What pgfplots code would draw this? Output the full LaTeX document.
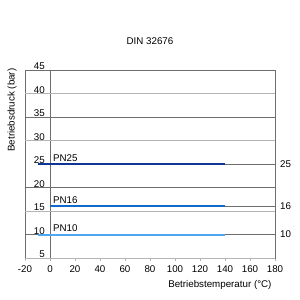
\documentclass[border=0pt]{standalone}
\usepackage{pgfplots}
\pgfplotsset{compat=1.18}
\usepackage{fontspec}
\setmainfont{Liberation Sans}
\definecolor{pnA}{HTML}{0D3596}
\definecolor{pnB}{HTML}{1269CC}
\definecolor{pnC}{HTML}{4FA5EE}
\definecolor{gdark}{HTML}{6E6E6E}
\definecolor{glight}{HTML}{B4B4B4}
\begin{document}
\begin{tikzpicture}[x=1bp,y=1bp]
\useasboundingbox (0,0) rectangle (300,300);
\begin{axis}[
  at={(25bp,42bp)}, anchor=south west,
  scale only axis, width=250bp, height=188bp,
  xmin=-20, xmax=180, ymin=5, ymax=45,
  xtick={-20,0,...,180}, ytick={5,10,...,45},
  font=\fontsize{9.8}{11}\selectfont,
  /pgf/number format/assume math mode=true,
  axis line style={gdark, line width=0.8bp},
  extra y ticks={15,30,40}, extra y tick labels={},
  extra y tick style={ymajorgrids, major grid style={glight, line width=1bp}, ytick style={draw=none}},
  extra x ticks={0}, extra x tick labels={},
  extra x tick style={xmajorgrids, major grid style={gdark, line width=0.8bp}, xtick style={draw=none}},
  xtick pos=bottom, tick align=outside, major tick length=3bp,
  xtick style={glight, line width=0.8bp},
  ytick style={draw=none},
  yticklabel style={anchor=south east, xshift=24bp, yshift=-1bp, inner sep=1bp},
  xticklabel style={yshift=-1bp},
  title={DIN 32676},
  title style={at={(rel axis cs:0.5,1.122)}, anchor=center},
  xlabel={Betriebstemperatur (°C)},
  xlabel style={at={(rel axis cs:1,-0.144)}, anchor=east},
  ylabel={Betriebsdruck (bar)},
  ylabel style={at={(rel axis cs:-0.052,0.787)}, anchor=center},
  clip=false,
]
% dark grid lines
\draw[gdark, line width=0.7bp] (axis cs:-20,20) -- (axis cs:180,20);
\draw[gdark, line width=0.7bp] (axis cs:-20,35) -- (axis cs:180,35);
% grey continuation lines
\addplot[gdark, line width=0.8bp, forget plot] coordinates {(140,25) (180,25)};
\addplot[gdark, line width=0.8bp, forget plot] coordinates {(-20,10) (180,10)};
\addplot[gdark, line width=0.8bp, forget plot] coordinates {(140,16) (180,16)};
% series
\addplot[pnA, line width=2bp] coordinates {(-10,25) (140,25)};
\addplot[pnB, line width=2bp] coordinates {(0,16) (140,16)};
\addplot[pnC, line width=2bp] coordinates {(-10,10) (140,10)};
% bottom axis light
\draw[glight, line width=1bp] (rel axis cs:0,0) -- (rel axis cs:1,0);
% labels
\node[anchor=south west, inner sep=1bp] at (axis cs:1.5,25.3) {PN25};
\node[anchor=south west, inner sep=1bp] at (axis cs:1.5,16.3) {PN16};
\node[anchor=south west, inner sep=1bp] at (axis cs:1.5,10.3) {PN10};
\node[anchor=west, inner sep=0pt] at (axis cs:184,25) {25};
\node[anchor=west, inner sep=0pt] at (axis cs:184,16) {16};
\node[anchor=west, inner sep=0pt] at (axis cs:184,10) {10};
\end{axis}
\end{tikzpicture}
\end{document}
